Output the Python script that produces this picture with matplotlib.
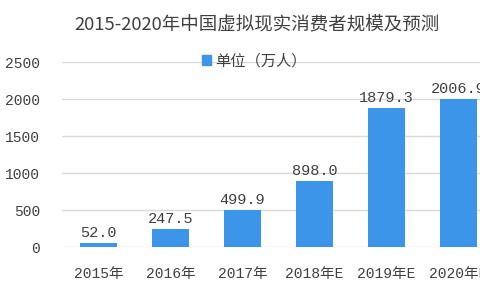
import matplotlib.pyplot as plt
from matplotlib.patches import Patch

#--- data
years = ["2015年", "2016年", "2017年", "2018年E", "2019年E", "2020年E"]
users = [52.0, 247.5, 499.9, 898.0, 1879.3, 2006.9]
y_ticks = [0, 500, 1000, 1500, 2000, 2500]

BAR_COLOUR = "#3d95e9"
TEXT_COLOUR = "#404040"
CJK = ["Noto Sans CJK SC", "DejaVu Sans"]
NUM = ["Liberation Mono", "Noto Sans CJK SC"]

fig = plt.figure(figsize=(4.8, 2.9), dpi=100)
# axes run past the right edge: the reference is cropped there
ax = fig.add_axes([0.130, 0.148, 0.900, 0.638])

x = range(len(years))
bars = ax.bar(x, users, width=0.52, color=BAR_COLOUR, zorder=2)

for xi, v in zip(x, users):
    ax.annotate(f"{v:.1f}", xy=(xi, v), xytext=(0, 2), textcoords="offset points",
                ha="center", va="bottom", fontsize=11, color=TEXT_COLOUR,
                family=NUM, annotation_clip=False)

ax.set_xlim(-0.5, len(years) - 0.5)
ax.set_ylim(0, 2500)
ax.set_yticks(y_ticks)
ax.set_yticklabels([str(t) for t in y_ticks], family=NUM, fontsize=10.5, color=TEXT_COLOUR)
ax.set_xticks(list(x))
ax.set_xticklabels(years, family=NUM, fontsize=10.5, color=TEXT_COLOUR)
ax.tick_params(axis="x", length=0, pad=14)
ax.tick_params(axis="y", length=0, pad=16)
ax.grid(axis="y", color="#d9d9d9", linewidth=1, zorder=0)
for s in ax.spines.values():
    s.set_visible(False)

fig.text(0.535, 0.912, "2015-2020年中国虚拟现实消费者规模及预测", ha="center", va="center",
         fontsize=13.3, color=TEXT_COLOUR, family=CJK)

handle = Patch(color=BAR_COLOUR)
fig.legend([handle], ["单位（万人）"], loc="center", bbox_to_anchor=(0.53, 0.79),
           frameon=False, handlelength=0.6, handleheight=0.6, handletextpad=0.3,
           prop={"family": CJK, "size": 11}, labelcolor=TEXT_COLOUR)

fig.savefig("out.png", dpi=100)
